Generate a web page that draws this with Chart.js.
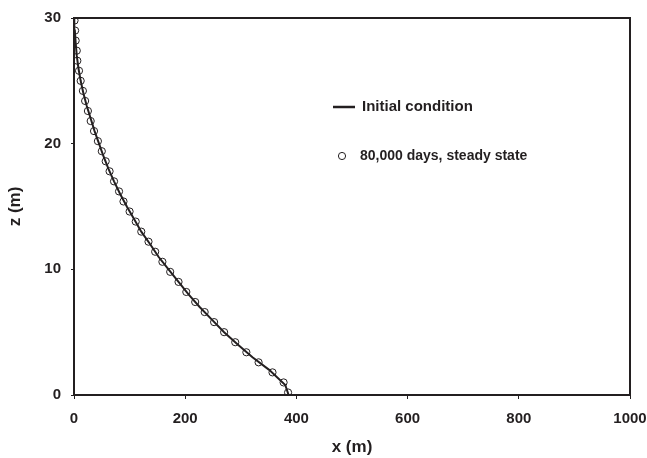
<!DOCTYPE html>
<html>
<head>
<meta charset="utf-8">
<script src="https://cdn.jsdelivr.net/npm/chart.js@4"></script>
<style>
  html, body { margin: 0; padding: 0; background: #fff; }
  #wrap { width: 647px; height: 458px; position: relative; }
</style>
</head>
<body>
<div id="wrap"><canvas id="profile"></canvas></div>
<script>
// initial condition (solid line)
var lineZ = [0, 0.8, 2, 3, 4, 5, 6, 7, 8, 9, 10, 11, 12, 13, 14, 15, 16, 17, 18, 19, 20, 21, 22, 23, 24, 25, 26, 27, 28, 29, 30];
var lineX = [386, 380, 351, 321, 295, 270, 248, 226, 206, 188, 170, 152, 137, 121, 108, 95, 83, 72, 62, 53, 45, 37, 30, 23, 17, 12, 8, 5, 3, 1.5, 0.5];

// 80,000 days, steady state (open circles)
var circleZ = [0.2, 1.0, 1.8, 2.6, 3.4, 4.2, 5.0, 5.8, 6.6, 7.4, 8.2, 9.0, 9.8, 10.6, 11.4, 12.2, 13.0, 13.8, 14.6, 15.4,
               16.2, 17.0, 17.8, 18.6, 19.4, 20.2, 21.0, 21.8, 22.6, 23.4, 24.2, 25.0, 25.8, 26.6, 27.4, 28.2, 29.0, 29.8];
var circleX = [385, 377, 357, 332, 310, 290, 270, 252, 235, 218, 202, 188, 173, 159, 146, 134, 121, 111, 100, 89,
               81, 72, 64, 57, 50, 43, 36, 30, 25, 20, 16, 12, 9, 6, 5, 3, 2, 1];

var xTicks = [0, 200, 400, 600, 800, 1000];
var zTicks = [0, 10, 20, 30];
var seriesNames = ['Initial condition', '80,000 days, steady state'];

var ink = '#231f20';
var face = 'Liberation Sans, Arial, sans-serif';
var tickFont = { family: face, size: 15, weight: 'bold' };
var titleFont = { family: face, size: 17, weight: 'bold' };

function toPoints(xs, zs) {
    return xs.map(function(x, i) { return { x: x, y: zs[i] }; });
}

// frame round the plot area and the legend inside it
var framePlugin = {
    id: 'frame',
    afterDraw: function(chart) {
        var ctx = chart.ctx;
        var a = chart.chartArea;
        ctx.save();
        ctx.strokeStyle = ink;
        ctx.lineWidth = 2;
        ctx.strokeRect(a.left, a.top, a.right - a.left, a.bottom - a.top);

        ctx.fillStyle = ink;
        ctx.textBaseline = 'middle';

        ctx.lineWidth = 2.5;
        ctx.beginPath();
        ctx.moveTo(333, 107);
        ctx.lineTo(355, 107);
        ctx.stroke();
        ctx.font = 'bold 15px ' + face;
        ctx.fillText(chart.data.datasets[0].label, 362, 107);

        ctx.lineWidth = 1;
        ctx.beginPath();
        ctx.arc(342, 156, 3.6, 0, Math.PI * 2);
        ctx.stroke();
        ctx.font = 'bold 14px ' + face;
        ctx.fillText(chart.data.datasets[1].label, 360, 156);
        ctx.restore();
    }
};

var chart = new Chart(document.getElementById('profile'), {
    type: 'scatter',
    data: {
        datasets: [{
            label: seriesNames[0],
            data: toPoints(lineX, lineZ),
            showLine: true,
            borderColor: ink,
            borderWidth: 2,
            pointRadius: 0,
            tension: 0
        }, {
            label: seriesNames[1],
            data: toPoints(circleX, circleZ),
            showLine: false,
            pointStyle: 'circle',
            pointRadius: 3.6,
            borderWidth: 1,
            borderColor: ink,
            backgroundColor: 'rgba(0,0,0,0)'
        }]
    },
    options: {
        responsive: true,
        maintainAspectRatio: false,
        animation: false,
        layout: { padding: { top: 18, right: 17, left: 0, bottom: 0 } },
        plugins: {
            legend: { display: false },
            tooltip: { enabled: false }
        },
        scales: {
            x: {
                type: 'linear',
                min: 0,
                max: 1000,
                afterBuildTicks: function(scale) {
                    scale.ticks = xTicks.map(function(v) { return { value: v }; });
                },
                afterFit: function(scale) {
                    scale.height = 63;
                    scale.paddingLeft = 0;
                    scale.paddingRight = 0;
                },
                grid: { display: true, drawOnChartArea: false, drawTicks: true, tickLength: 4, color: ink, lineWidth: 1 },
                border: { display: true, color: ink, width: 2 },
                ticks: {
                    color: ink, font: tickFont, padding: 11, maxRotation: 0,
                    callback: function(v) { return String(v); }
                },
                title: { display: true, text: 'x (m)', color: ink, font: titleFont, padding: { top: 0, bottom: 0 } }
            },
            y: {
                type: 'linear',
                min: 0,
                max: 30,
                afterBuildTicks: function(scale) {
                    scale.ticks = zTicks.map(function(v) { return { value: v }; });
                },
                afterFit: function(scale) {
                    scale.width = 74;
                    scale.paddingTop = 0;
                    scale.paddingBottom = 0;
                },
                grid: { display: true, drawOnChartArea: false, drawTicks: true, tickLength: 3, color: ink, lineWidth: 1 },
                border: { display: true, color: ink, width: 2 },
                ticks: { color: ink, font: tickFont, padding: 10 },
                title: { display: true, text: 'z (m)', color: ink, font: titleFont, padding: { top: 5, bottom: 0 } }
            }
        }
    },
    plugins: [framePlugin]
});
</script>
</body>
</html>
